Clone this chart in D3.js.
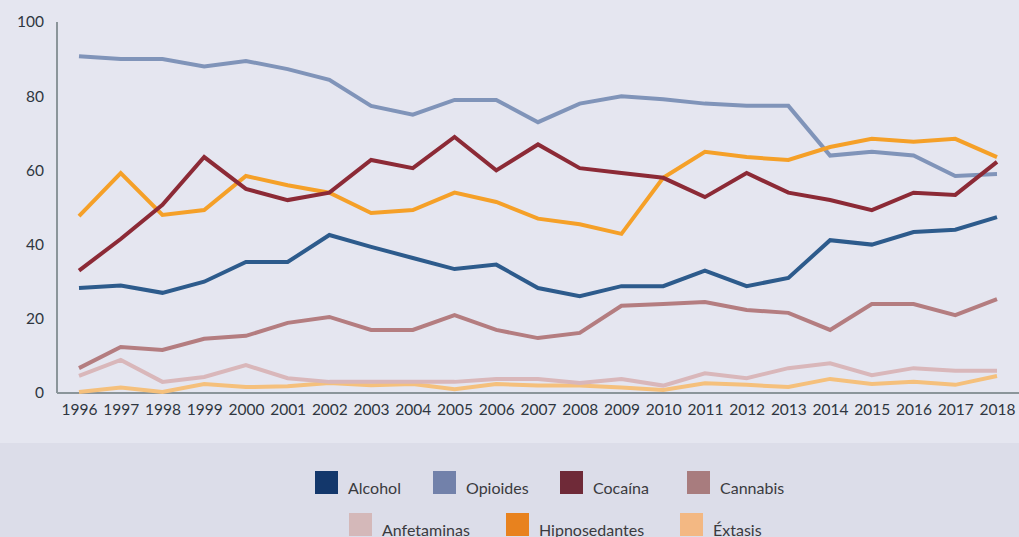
<!DOCTYPE html>
<html>
<head>
<meta charset="utf-8">
<script src="https://cdn.jsdelivr.net/npm/d3@7"></script>
<style>
  html, body { margin: 0; padding: 0; background: #dcdde9; }
  svg { display: block; font-family: Lato, "Open Sans", sans-serif; }
</style>
</head>
<body>
<div id="chart"></div>
<script>
const years = d3.range(1996, 2019);

const alcohol = [28.3, 29, 27, 30, 35.3, 35.3, 42.6, 39.4, 36.4, 33.4, 34.6, 28.3, 26.1, 28.8, 28.8, 33, 28.8, 31, 41.2, 40, 43.4, 44, 47.4];
const opioides = [90.8, 90, 90, 88, 89.5, 87.3, 84.4, 77.4, 75, 79, 79, 73, 78, 80, 79.2, 78, 77.4, 77.4, 64, 65, 64, 58.5, 59];
const cocaina = [33, 41.5, 50.7, 63.6, 55, 52, 54, 62.8, 60.6, 69, 60, 67, 60.6, 59.3, 58, 52.8, 59.3, 54, 52, 49.3, 54, 53.4, 62.3];
const cannabis = [6.7, 12.4, 11.6, 14.6, 15.4, 18.9, 20.5, 17, 17, 21, 17, 14.8, 16.2, 23.5, 24, 24.5, 22.4, 21.6, 17, 24, 24, 21, 25.3];
const anfetaminas = [4.6, 8.9, 3, 4.3, 7.5, 4, 3, 3, 3, 3, 3.8, 3.8, 2.7, 3.8, 2, 5.3, 4, 6.7, 8, 4.8, 6.7, 6, 6];
const hipnosedantes = [47.7, 59.3, 48, 49.3, 58.5, 56, 54, 48.5, 49.3, 54, 51.5, 47, 45.5, 42.9, 58, 65, 63.6, 62.8, 66.3, 68.5, 67.7, 68.5, 63.6];
const extasis = [0.3, 1.5, 0.3, 2.4, 1.6, 1.8, 2.7, 2.1, 2.4, 1, 2.4, 2, 2, 1.5, 0.8, 2.6, 2.2, 1.6, 3.8, 2.4, 3, 2.2, 4.6];

const yTicks = [0, 20, 40, 60, 80, 100];

// legend order and line colours / swatch colours
const series = [
  { name: 'Alcohol', values: alcohol, line: '#2d5b8c', swatch: '#13376b' },
  { name: 'Opioides', values: opioides, line: '#8094b9', swatch: '#7281aa' },
  { name: 'Cocaína', values: cocaina, line: '#8c2a36', swatch: '#6f2a38' },
  { name: 'Cannabis', values: cannabis, line: '#b47d80', swatch: '#a87c7e' },
  { name: 'Anfetaminas', values: anfetaminas, line: '#d9b7ba', swatch: '#d4b8b9' },
  { name: 'Hipnosedantes', values: hipnosedantes, line: '#f5a028', swatch: '#e8821e' },
  { name: 'Éxtasis', values: extasis, line: '#f5c07c', swatch: '#f3b883' }
];

// drawing order (bottom to top)
const drawOrder = ['Éxtasis', 'Anfetaminas', 'Cannabis', 'Alcohol', 'Opioides', 'Hipnosedantes', 'Cocaína'];

const width = 1019;
const height = 537;

const svg = d3.select('#chart')
  .append('svg')
  .attr('width', width)
  .attr('height', height)
  .attr('viewBox', [0, 0, width, height]);

// top panel background
svg.append('rect')
  .attr('x', 0).attr('y', 0)
  .attr('width', width).attr('height', 443)
  .attr('fill', '#e5e6f0');

const x = d3.scalePoint()
  .domain(years)
  .range([79, 997]);

const y = d3.scaleLinear()
  .domain([0, 100])
  .range([393, 22]);

// y axis
const yAxis = svg.append('g')
  .attr('transform', 'translate(57,0)')
  .call(d3.axisLeft(y).tickValues(yTicks).tickSize(0).tickPadding(13));
yAxis.select('.domain')
  .attr('stroke', '#8b959a')
  .attr('stroke-width', 2)
  .attr('d', `M0,${y(100)}V${y(0)}`);
yAxis.selectAll('.tick text')
  .attr('fill', '#2f3640')
  .attr('font-size', 15.5)
  .attr('font-family', 'Lato, sans-serif');

// x axis
const xAxis = svg.append('g')
  .attr('transform', `translate(0,${y(0)})`)
  .call(d3.axisBottom(x).tickSize(0).tickPadding(11));
xAxis.select('.domain')
  .attr('stroke', '#8b959a')
  .attr('stroke-width', 2)
  .attr('d', 'M57,0H1019');
xAxis.selectAll('.tick text')
  .attr('fill', '#2f3640')
  .attr('font-size', 15.5)
  .attr('font-family', 'Lato, sans-serif');

const line = d3.line()
  .x((d, i) => x(years[i]))
  .y((d) => y(d));

// draw lines
svg.append('g')
  .selectAll('path')
  .data(drawOrder.map((n) => series.find((s) => s.name === n)))
  .join('path')
  .attr('fill', 'none')
  .attr('stroke', (d) => d.line)
  .attr('stroke-width', 4)
  .attr('stroke-linejoin', 'miter')
  .attr('d', (d) => line(d.values));

// legend
const legendRows = [
  { y: 471, items: [{ name: 'Alcohol', x: 315 }, { name: 'Opioides', x: 433 }, { name: 'Cocaína', x: 560 }, { name: 'Cannabis', x: 687 }] },
  { y: 513, items: [{ name: 'Anfetaminas', x: 349 }, { name: 'Hipnosedantes', x: 506 }, { name: 'Éxtasis', x: 680 }] }
];

const legend = svg.append('g');
legendRows.forEach((row) => {
  const g = legend.append('g').attr('transform', `translate(0,${row.y})`);
  const items = g.selectAll('g')
    .data(row.items)
    .join('g')
    .attr('transform', (d) => `translate(${d.x},0)`);
  items.append('rect')
    .attr('width', 23)
    .attr('height', 23)
    .attr('fill', (d) => series.find((s) => s.name === d.name).swatch);
  items.append('text')
    .attr('x', 33)
    .attr('y', 23)
    .attr('fill', '#3a3a3e')
    .attr('font-size', 16)
    .text((d) => d.name);
});
</script>
</body>
</html>
